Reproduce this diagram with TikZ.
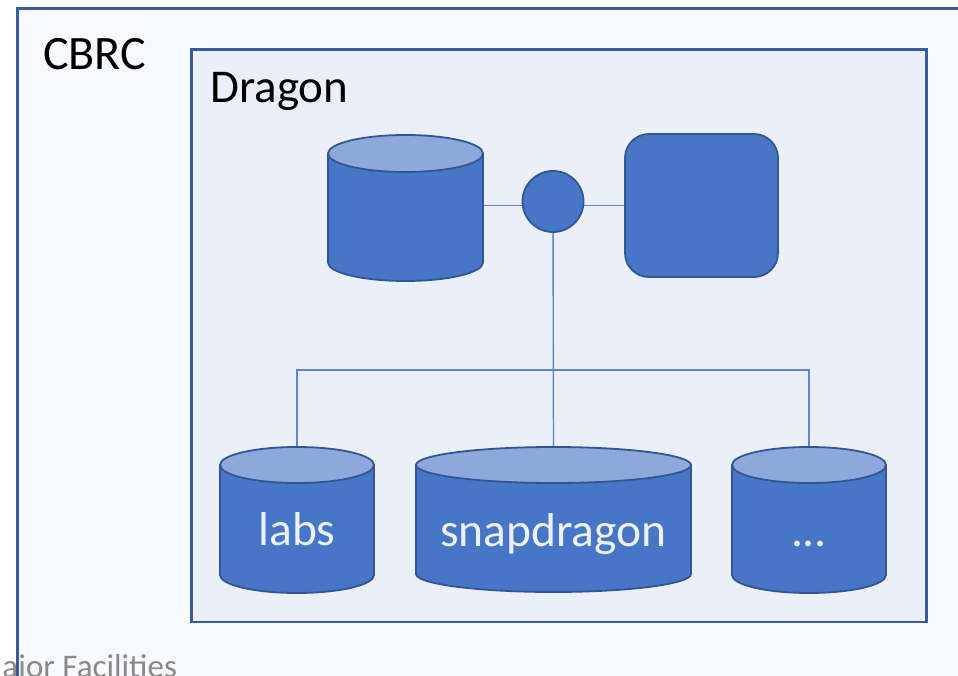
\documentclass[tikz,border=0pt]{standalone}
\usepackage{fontspec}
\setmainfont{Carlito}
\definecolor{boxline}{RGB}{59,90,155}
\definecolor{outerfill}{RGB}{247,249,253}
\definecolor{innerfill}{RGB}{234,239,248}
\definecolor{cylbody}{RGB}{72,118,198}
\definecolor{cyltop}{RGB}{141,168,219}
\definecolor{cylline}{RGB}{50,86,148}
\definecolor{wire}{RGB}{96,132,204}
\definecolor{cyltext}{RGB}{236,241,250}
\definecolor{captiongray}{RGB}{137,137,137}
\pgfdeclarelayer{bg}
\pgfdeclarelayer{wires}
\pgfsetlayers{bg,wires,main}
\tikzset{
  bigtext/.style={inner sep=0pt, font=\fontsize{48}{56}\selectfont, text=black},
  cyllabel/.style={inner sep=0pt, font=\fontsize{47.5}{56}\selectfont, text=cyltext},
  wireline/.style={draw=wire, line width=1.4pt},
  shapeline/.style={draw=cylline, line width=1.8pt, fill=cylbody},
}
% #1 name, #2 cx, #3 rx, #4 ytop, #5 ybottom, #6 ry
\newcommand\dbcylinder[6]{%
  \path[shapeline] ({#2-#3},{#4+#6}) -- ({#2-#3},{#5-#6})
     arc[start angle=180, end angle=0, x radius=#3, y radius=#6]
     -- ({#2+#3},{#4+#6}) -- cycle;
  \path[shapeline, fill=cyltop] (#2,{#4+#6}) ellipse [x radius=#3, y radius=#6];
  \node[inner sep=0pt, outer sep=0pt, minimum width={2*#3*1pt}, minimum height={(#5-#4)*1pt}] (#1) at (#2,{(#4+#5)/2}) {};
}
\begin{document}
\begin{tikzpicture}[x=1pt,y=-1pt]
\useasboundingbox (0,0) rectangle (958,676);
\begin{pgfonlayer}{bg}
  \fill[white] (0,0) rectangle (958,676);
  \fill[outerfill] (16,7.5) rectangle (975,700);
  \node[anchor=base west, inner sep=0pt, font=\fontsize{33}{38}\selectfont, text=captiongray] (caption) at (-26,677.5) {Major Facilities};
  \node[draw=boxline, line width=2.5pt, inner sep=0pt, anchor=north west, minimum width=959pt, minimum height=692pt] (cbrc) at (16,7.5) {};
  \node[draw=boxline, line width=2.5pt, fill=innerfill, inner sep=0pt, minimum width=735pt, minimum height=572.5pt] (dragon) at (559,335.75) {};
\end{pgfonlayer}

\node[bigtext, anchor=base west] (cbrcT) at (43,70) {CBRC};
\node[bigtext, anchor=base west, font=\fontsize{47}{56}\selectfont] (dragonT) at (210,103) {Dragon};

\dbcylinder{store}{405.5}{77.5}{135}{281}{18.5}
\node[shapeline, circle, inner sep=0pt, minimum size=61pt] (hub) at (553,201.5) {};
\node[shapeline, rounded corners=24pt, inner sep=0pt, minimum width=153pt, minimum height=143pt] (server) at (701.5,205.5) {};

\dbcylinder{labs}{297}{77}{447}{593}{18}
\dbcylinder{snap}{553.5}{137.5}{447}{592}{18}
\dbcylinder{more}{809}{77}{447}{593}{18}

\node[cyllabel, anchor=base] (labsT) at (297,545) {labs};
\node[cyllabel, anchor=base] (snapT) at (553.5,546) {snapdragon};
\node[cyllabel, anchor=base] (moreT) at (809,546) {...};

\coordinate (bus) at (553,370);
\begin{pgfonlayer}{wires}
  \draw[wireline] (store.east |- server.west) -- (server.west);
  \draw[wireline] (hub.center) -- (snap.north);
  \draw[wireline] (labs.north) |- (bus) -| (more.north);
\end{pgfonlayer}
\end{tikzpicture}
\end{document}
